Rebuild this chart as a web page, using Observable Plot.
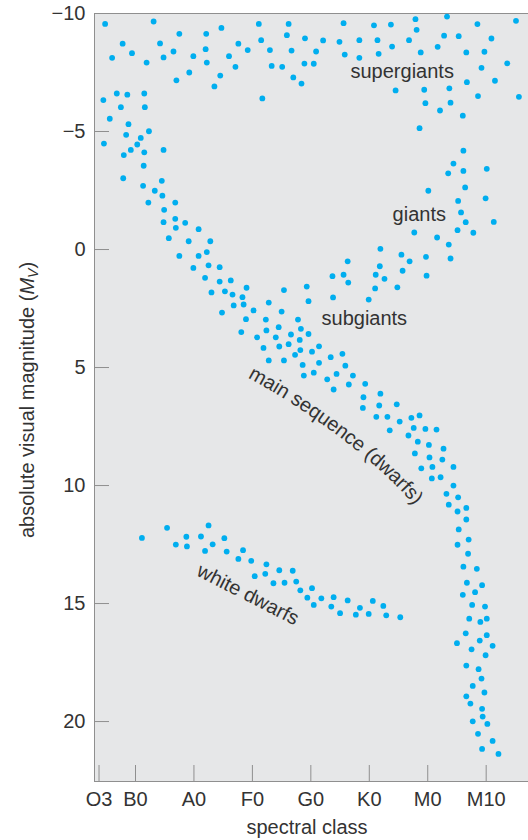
<!DOCTYPE html>
<html><head><meta charset="utf-8">
<script src="https://cdn.jsdelivr.net/npm/d3@7"></script>
<script src="https://cdn.jsdelivr.net/npm/@observablehq/plot@0.6"></script>
<style>body{margin:0;background:#fff;} svg{display:block}</style>
</head><body><div id="chart"></div>
<script>
// spectral class axis: B0=1, A0=2, F0=3, G0=4, K0=5, M0=6, M10=7
const xTickValues = [0.376, 1, 2, 3, 4, 5, 6, 7];
const xTickLabels = ["O3", "B0", "A0", "F0", "G0", "K0", "M0", "M10"];
const yTicks = [-10, -5, 0, 5, 10, 15, 20];
const xDomain = [0.2985, 7.724];
const yDomain = [-10, 22.54];

const supergiants = [[0.48,-9.56],[1.31,-9.66],[0.78,-8.72],[0.60,-8.12],[0.94,-8.32],[1.19,-7.92],[1.42,-8.73],[1.48,-8.14],[1.75,-9.14],[1.65,-8.39],[1.70,-7.17],[1.92,-7.50],[1.99,-8.19],[2.21,-9.14],[2.20,-8.49],[2.22,-7.92],[2.35,-6.91],[2.45,-7.37],[2.47,-9.39],[2.60,-8.19],[2.71,-7.74],[2.76,-8.72],[2.92,-8.45],[3.11,-9.56],[3.15,-8.87],[3.30,-8.45],[3.33,-7.78],[3.17,-6.40],[3.51,-7.74],[3.62,-9.56],[3.59,-9.08],[3.67,-8.43],[3.70,-7.29],[3.84,-7.03],[3.90,-8.95],[3.89,-7.88],
[4.56,-9.59],[5.08,-9.50],[5.37,-9.53],[5.79,-9.76],[5.81,-9.31],[6.33,-9.87],[6.85,-9.55],[7.51,-9.69],[4.21,-8.86],[4.49,-8.80],[4.83,-8.87],[5.14,-8.87],[5.68,-8.87],[6.28,-9.06],[6.53,-9.04],[7.09,-8.94],[4.09,-8.39],[4.58,-8.26],[4.83,-8.12],[5.16,-8.29],[5.39,-8.60],[5.88,-8.35],[6.17,-8.59],[6.66,-8.35],[6.97,-8.38],[4.05,-7.87],[6.92,-7.70],[7.36,-7.89],[5.45,-6.74],[5.94,-6.77],[6.37,-6.83],[6.67,-7.09],[7.15,-7.15],[6.86,-6.50],[7.56,-6.47],[5.96,-6.20],[6.39,-6.22],[6.21,-5.89],[6.60,-5.67],[5.86,-5.14]];

const mainSequence = [[0.45,-6.33],[0.68,-6.61],[0.86,-6.56],[1.15,-6.61],[0.75,-6.03],[1.16,-6.03],[0.56,-5.54],[0.88,-5.31],[0.84,-4.86],[1.23,-5.01],[0.46,-4.49],[1.09,-4.73],[1.03,-4.45],[0.92,-4.22],[0.80,-4.00],[1.15,-4.12],[1.48,-4.22],[1.14,-3.55],[0.79,-3.02],[1.13,-2.70],[1.45,-2.91],[1.33,-2.49],[1.46,-2.28],[1.22,-1.99],[1.68,-1.99],[1.49,-1.68],
[1.48,-1.16],[1.68,-1.30],[1.85,-1.13],[1.69,-0.92],[2.08,-0.86],[1.57,-0.48],[1.91,-0.35],[2.28,-0.35],[1.75,0.27],[2.08,0.27],[2.22,0.11],[1.99,0.78],[2.25,0.67],[2.44,0.75],[2.19,1.20],[2.44,1.36],[2.63,1.31],[2.30,1.82],[2.53,1.77],[2.66,1.91],[2.90,1.62],[2.83,2.02],[2.68,2.37],[2.85,2.33],[3.02,2.58],[2.48,2.67],[3.28,2.25],[3.54,1.72],[3.93,1.57],[3.96,2.19],[3.50,2.63],[2.89,2.95],[3.23,2.97],[3.78,2.97],[2.81,3.50],[3.24,3.43],[3.45,3.29],[3.83,3.36],[3.96,3.58],[3.08,3.72],[3.40,3.72],[3.66,3.60],[3.81,3.83],[3.19,4.17],[3.46,4.11],[3.62,4.01],[3.82,4.26],[3.73,4.46],[3.28,4.70],[3.54,4.70],[3.86,4.89],[3.88,5.34],
[4.14,4.10],[4.02,4.33],[4.34,4.56],[4.54,4.42],[4.14,4.80],[4.59,4.92],[4.05,5.22],[4.44,5.27],[4.72,5.34],[4.28,5.50],[4.65,5.72],[4.93,5.69],[4.39,5.93],[4.90,6.26],[5.19,6.11],[4.89,6.71],[5.17,6.61],[5.47,6.56],[5.12,7.09],[5.31,7.09],[5.52,7.29],[5.72,7.13],[5.86,7.03],[5.35,7.66],[5.76,7.56],[5.96,7.60],[6.15,7.63],[5.67,7.88],[5.83,8.14],[6.02,8.28],[6.27,8.44],[5.78,8.64],[6.03,8.81],[6.25,8.90],[5.89,9.27],[6.08,9.21],[6.44,9.21],[6.07,9.70],[6.22,9.65],[6.44,10.00],[6.32,10.35],[6.52,10.50],[6.36,10.81],[6.51,11.10],[6.66,10.95],[6.66,11.44],[6.53,11.86],
[6.70,12.29],[6.51,12.51],[6.69,12.89],[6.61,13.44],[6.84,13.53],[6.67,14.12],[6.93,14.22],[6.60,14.63],[6.81,14.52],[6.76,15.06],[6.98,15.13],[6.71,15.64],[6.90,15.78],[7.01,15.64],[6.65,16.26],[7.01,16.34],[6.50,16.68],[6.89,16.57],[7.11,16.79],[6.75,16.94],[6.99,17.19],[6.66,17.63],[6.87,17.78],[6.92,18.18],[6.77,18.49],[6.97,18.77],[6.66,18.93],[6.73,19.24],[6.93,19.46],[6.94,19.79],[6.77,19.99],[7.02,20.10],[6.86,20.52],[7.11,20.82],[6.93,21.16],[7.21,21.37]];

const giants = [[6.61,-4.19],[6.44,-3.64],[6.35,-3.23],[6.61,-3.33],[7.01,-3.42],[6.01,-2.49],[6.64,-2.63],[6.52,-2.06],[6.99,-2.17],[6.57,-1.57],[7.13,-1.17],[6.65,-1.16],[6.51,-0.82],[6.78,-0.71],[5.77,-0.72],[6.16,-0.51],[6.36,-0.21],[6.39,0.38],[5.19,-0.03],[5.55,0.22],[5.97,0.31],[5.69,0.50],[4.63,0.50],[5.18,0.71],[5.57,0.90],[4.37,1.13],[4.56,1.07],[5.11,1.07],[5.98,1.11],[4.64,1.40],[5.26,1.24],[5.10,1.65],[5.48,1.60],[4.38,2.03],[4.99,2.12]];

const whiteDwarfs = [[1.11,12.22],[1.54,11.79],[2.25,11.69],[1.69,12.50],[1.87,12.17],[1.88,12.58],[2.12,12.16],[2.32,12.49],[2.19,12.77],[2.52,12.23],[2.56,12.80],[2.84,12.74],[2.76,13.11],[2.98,13.19],[3.24,13.34],[3.46,13.59],[3.69,13.61],[3.04,13.84],[3.22,13.74],[3.36,14.14],[3.55,14.12],[3.75,14.07],[3.82,14.44],[4.02,14.35],[3.94,14.75],[4.18,14.78],[4.39,14.73],[4.63,14.87],[4.05,15.06],[4.35,15.13],[4.50,15.41],[4.84,15.18],[5.06,14.89],[5.24,15.10],[4.77,15.47],[4.99,15.44],[5.29,15.50],[5.53,15.58]];

const labelText = ["supergiants", "giants", "subgiants", "white dwarfs"];
const labelX = [5.563, 5.855, 4.915, 2.925];
const labelY = [-7.55, -1.50, 2.91, 14.62];
const labelRotate = [0, 0, 0, 27];
// curved label path (data units) for the main sequence
const msLabel = "main sequence (dwarfs)";
const msPath = [[3.002, 5.21], [3.908, 6.40], [5.198, 8.69], [5.859, 10.64]];

const FONT = "'Liberation Sans', Arial, sans-serif";
const INK = "#333";
const AXIS = "#8f8f8f";

const toRows = (arr, group) => arr.map(([x, y]) => ({x, y, group}));
const stars = [
  ...toRows(supergiants, "supergiants"),
  ...toRows(mainSequence, "main sequence"),
  ...toRows(giants, "giants"),
  ...toRows(whiteDwarfs, "white dwarfs")
];
const labels = labelText.map((text, i) => ({text, x: labelX[i], y: labelY[i], rotate: labelRotate[i]}));

const plot = Plot.plot({
  width: 528, height: 840,
  marginLeft: 94, marginRight: 0, marginTop: 13, marginBottom: 59,
  style: {fontFamily: FONT, fontSize: "20px", color: INK, background: "transparent", overflow: "visible"},
  x: {domain: xDomain},
  y: {domain: yDomain, reverse: true},
  marks: [
    Plot.frame({fill: "#e6e7e8", stroke: null}),
    Plot.ruleY([yDomain[0]], {stroke: AXIS}),
    Plot.ruleY([yDomain[1]], {stroke: AXIS}),
    Plot.ruleX([xDomain[0]], {stroke: AXIS}),
    Plot.axisY({ticks: yTicks, tickSize: -15, tickPadding: 24, stroke: AXIS, fill: INK, label: null}),
    Plot.axisX({ticks: xTickValues, tickFormat: d => xTickLabels[xTickValues.indexOf(d)], tickSize: -16, tickPadding: 26, stroke: AXIS, fill: INK, label: null}),
    Plot.dot(stars, {x: "x", y: "y", r: 2.9, fill: "#00aeef", stroke: null}),
    Plot.text(labels, {x: "x", y: "y", text: "text", rotate: "rotate", fontSize: 20, fill: INK})
  ]
});

document.getElementById("chart").appendChild(plot);

const svg = d3.select(plot);
const sx = plot.scale("x"), sy = plot.scale("y");
const P = msPath.map(([x, y]) => [sx.apply(x), sy.apply(y)]);
svg.append("path").attr("id", "ms-path")
  .attr("d", `M${P[0]}C${P[1]} ${P[2]} ${P[3]}`).attr("fill", "none");
svg.append("text").attr("font-size", 20).attr("fill", INK).attr("font-family", FONT)
  .attr("dominant-baseline", "central")
  .append("textPath").attr("href", "#ms-path").attr("startOffset", "50%")
  .attr("text-anchor", "middle").text(msLabel);

// axis titles
const yt = svg.append("text").attr("transform", "translate(34,400) rotate(-90)")
  .attr("text-anchor", "middle").attr("font-size", 20).attr("fill", INK).attr("font-family", FONT);
yt.append("tspan").text("absolute visual magnitude (");
yt.append("tspan").attr("font-style", "italic").text("M");
yt.append("tspan").attr("font-style", "italic").attr("font-size", 14).attr("dy", 4).text("V");
yt.append("tspan").attr("dy", -4).text(")");

svg.append("text").attr("x", 307).attr("y", 834).attr("text-anchor", "middle")
  .attr("font-size", 20).attr("fill", INK).attr("font-family", FONT).text("spectral class");
</script></body></html>
